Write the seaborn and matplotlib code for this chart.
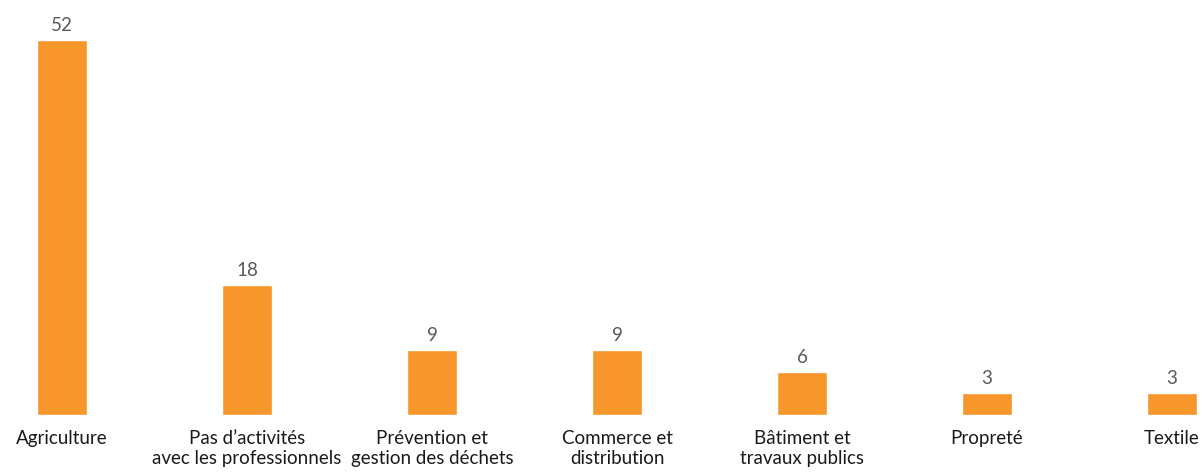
import pandas as pd
import seaborn as sns
import matplotlib.pyplot as plt

categories = [
    "Agriculture",
    "Pas d\u2019activités\navec les professionnels",
    "Prévention et\ngestion des déchets",
    "Commerce et\ndistribution",
    "Bâtiment et\ntravaux publics",
    "Propreté",
    "Textile",
]
values = [52, 18, 9, 9, 6, 3, 3]

bar_color = "#F7962A"

sns.set_style("white")
plt.rcParams["font.family"] = ["Lato", "DejaVu Sans"]

df = pd.DataFrame({"category": categories, "value": values})

fig = plt.figure(figsize=(12.02, 4.77), dpi=100)
ax = fig.add_axes([0, 61 / 477, 1, 416 / 477])

sns.barplot(data=df, x="category", y="value", color=bar_color, width=0.27,
            saturation=1, ax=ax)

ax.set_xlim(-0.335, 6.162)
ax.set_ylim(0, 57.7)

for container in ax.containers:
    ax.bar_label(container, padding=5, fontsize=13.5, color="#595959")

ax.set_xlabel("")
ax.set_ylabel("")
ax.set_yticks([])
ax.tick_params(axis="x", length=0, pad=10, labelsize=13.5, labelcolor="#1a1a1a")
sns.despine(ax=ax, left=True, bottom=True)

plt.savefig("out.png", dpi=100)
plt.close()
